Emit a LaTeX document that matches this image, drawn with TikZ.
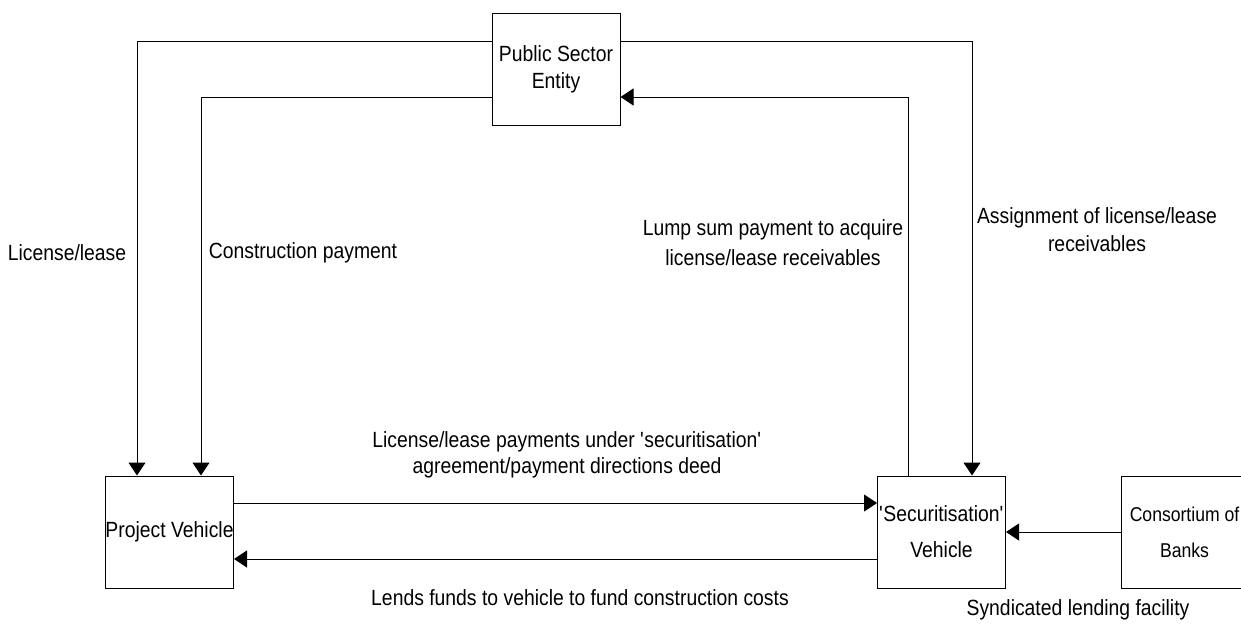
\documentclass[tikz,border=0pt]{standalone}
\usepackage{fontspec}
\setmainfont{Liberation Sans}[FakeStretch=0.88]
\usetikzlibrary{arrows.meta, positioning}

\tikzset{
    entity/.style={draw, line width=1pt, minimum width=128pt, minimum height=112pt, inner sep=0pt, align=center},
    flow/.style={line width=1pt, -{Triangle[length=13pt, width=17pt]}},
    tag/.style={inner sep=0pt, align=center}
}

\begin{document}
\begin{tikzpicture}[x=1pt, y=-1pt, font=\fontsize{22}{27}\selectfont]
    \useasboundingbox (0,0) rectangle (1241,624);

    \node[entity]                              (PSE) at (556,69)   {Public Sector\\Entity};
    \node[entity]                              (PV)  at (169.5,532) {Project Vehicle};
    \node[entity, right=643pt of PV, font=\fontsize{22}{36}\selectfont]  (SV)  {\textquotesingle Securitisation\textquotesingle\\Vehicle};
    \node[entity, right=115pt of SV, minimum width=126pt, font=\fontsize{20}{36}\selectfont] (COB) {Consortium of\\Banks};

    % routing points
    \coordinate (lic)    at (137,41);
    \coordinate (con)    at (201,97);
    \coordinate (assign) at (972,41);
    \coordinate (lump)   at (908,97);

    \draw[flow] (PSE.west |- lic) -| (PV.north -| lic);
    \draw[flow] (PSE.west |- con) -| (PV.north -| con);
    \draw[flow] (PSE.east |- assign) -| (SV.north -| assign);
    \draw[flow] (SV.north -| lump) |- (PSE.east |- lump);
    \draw[flow] (PV.east |- 0,503) -- (SV.west |- 0,503);
    \draw[flow] (SV.west |- 0,559) -- (PV.east |- 0,559);
    \draw[flow] (COB.west) -- (SV.east);

    % labels
    \node[tag] (licT)    at (67,253)   {License/lease};
    \node[tag] (conT)    at (303,253)  {Construction payment};
    \node[tag, font=\fontsize{22}{30}\selectfont] (lumpT) at (773,243) {Lump sum payment to acquire\\license/lease receivables};
    \node[tag, font=\fontsize{22}{28}\selectfont] (assignT) at (1097,230) {Assignment of license/lease\\receivables};
    \node[tag, font=\fontsize{22}{26}\selectfont] (payT) at (567,455) {License/lease payments under \textquotesingle securitisation\textquotesingle\\agreement/payment directions deed};
    \node[tag] (lendT)   at (580,598)  {Lends funds to vehicle to fund construction costs};
    \node[tag] (syndT)   at (1078,610) {Syndicated lending facility};
\end{tikzpicture}
\end{document}
